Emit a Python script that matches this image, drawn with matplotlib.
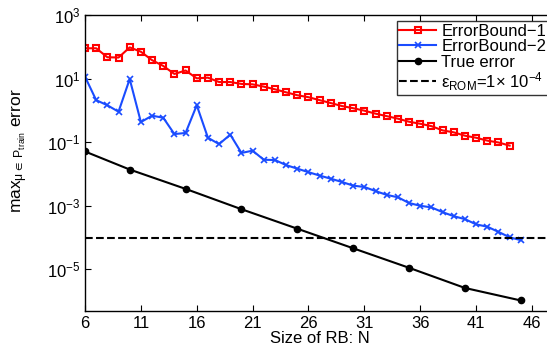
import matplotlib
matplotlib.use('Agg')
import matplotlib.pyplot as plt

plt.rcParams['font.family'] = ['Liberation Sans', 'DejaVu Sans']
plt.rcParams['mathtext.fontset'] = 'custom'
plt.rcParams['mathtext.rm'] = 'Liberation Sans'
plt.rcParams['mathtext.it'] = 'Liberation Sans'
plt.rcParams['mathtext.default'] = 'regular'

# ErrorBound-1, N = 6..44
n_eb1 = list(range(6, 45))
eb1 = [90, 90, 47, 46, 96, 70, 38, 25, 14, 18,
       10.2, 10.7, 7.8, 7.8, 6.8, 6.6, 5.6, 4.6, 3.7, 3.0,
       2.6, 2.1, 1.7, 1.37, 1.17, 0.98, 0.79, 0.66, 0.55, 0.44,
       0.38, 0.32, 0.235, 0.204, 0.16, 0.138, 0.112, 0.098, 0.078]

# ErrorBound-2, N = 6..45
n_eb2 = list(range(6, 46))
eb2 = [11.5, 2.1, 1.45, 0.91, 9.7, 0.43, 0.68, 0.59, 0.18, 0.195,
       1.45, 0.138, 0.087, 0.173, 0.046, 0.054, 0.028, 0.0275, 0.019, 0.0147,
       0.0114, 0.0089, 0.0071, 0.0056, 0.0043, 0.0039, 0.0029, 0.0022, 0.00185, 0.00122,
       0.0010, 0.00089, 0.00063, 0.00047, 0.00038, 0.00026, 0.00022, 0.000151, 0.000102, 0.000083]

# True error
n_true = [6, 10, 15, 20, 25, 30, 35, 40, 45]
true_err = [0.051, 0.0138, 0.0034, 0.00078, 0.00019, 4.6e-5, 1.12e-5, 2.6e-6, 1.05e-6]

eps_rom = 1e-4
xticks = [6, 11, 16, 21, 26, 31, 36, 41, 46]
yticks = [1e-5, 1e-3, 1e-1, 1e1, 1e3]

fig = plt.figure(figsize=(5.47, 3.5), dpi=100)
ax = fig.add_axes([0.1554, 0.1123, 0.858, 0.8448])

ax.semilogy(n_eb1, eb1, '-s', color='#ff0000', lw=1.5, ms=4.5, mfc='none', mew=1.5,
            label='ErrorBound\u22121')
ax.semilogy(n_eb2, eb2, '-x', color='#1a4cff', lw=1.5, ms=4, mew=1.2,
            label='ErrorBound\u22122')
ax.semilogy(n_true, true_err, '-o', color='black', lw=1.5, ms=4.5,
            label='True error')
ax.axhline(eps_rom, color='black', ls='--', lw=1.5,
           label=r'$\epsilon_{ROM}$=1$\times$ 10$^{-4}$')

ax.set_xlim(6, 48)
ax.set_ylim(10**-6.3, 1e3)
ax.set_xticks(xticks)
ax.set_yticks(yticks)
ax.minorticks_off()
ax.tick_params(direction='in', top=True, right=True, labelsize=12, length=4)
for s in ax.spines.values():
    s.set_linewidth(1.0)

ax.set_xlabel('Size of RB: N', fontsize=12, labelpad=0)
ax.set_ylabel(r'max$_{\mu\in\ P_{train}}$ error', fontsize=12.5, labelpad=4)
ax.yaxis.set_label_coords(-0.118, 0.54)

leg = ax.legend(loc='upper right', fontsize=12, frameon=True, fancybox=False,
                edgecolor='black', handlelength=2.2, borderpad=0.15,
                labelspacing=0.02, handletextpad=0.3, borderaxespad=0.3,
                bbox_to_anchor=(0.9985, 0.995))
leg.get_frame().set_linewidth(1.0)

fig.savefig('out.png', dpi=100)
plt.close('all')
